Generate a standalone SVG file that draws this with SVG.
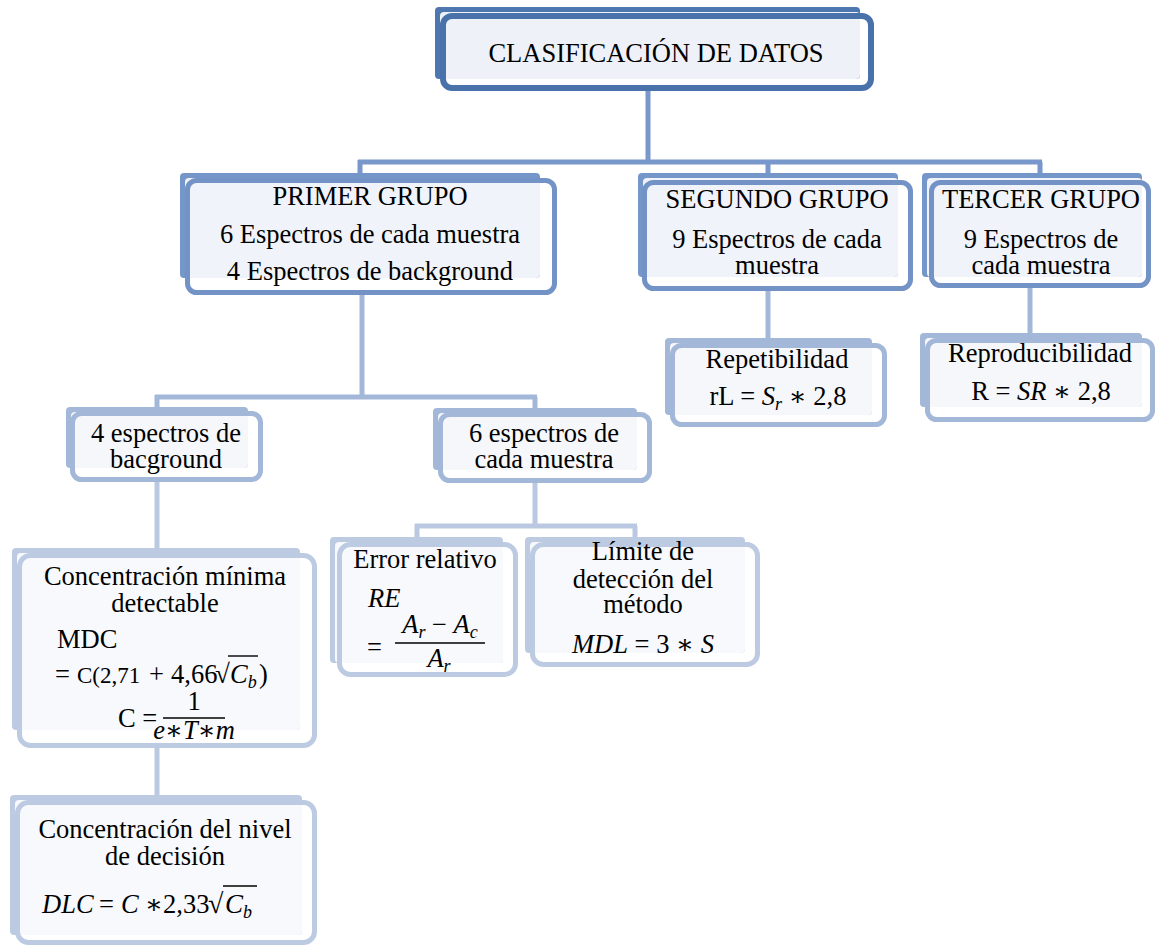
<svg xmlns="http://www.w3.org/2000/svg" width="1156" height="947" viewBox="0 0 1156 947">
  <style>
    .txt { font-family: "Liberation Serif", "DejaVu Serif", serif; font-size: 26.5px; fill: #000; text-anchor: middle; }
    .m { font-family: "Liberation Serif", "DejaVu Serif", serif; font-size: 26.5px; fill: #000; }
    .i { font-style: italic; }
    .sub { font-size: 18px; font-style: italic; }
    .conn { fill: none; stroke-width: 5; stroke-linecap: butt; stroke-linejoin: round; }
    .c1 { stroke: #7898cb; }
    .c2 { stroke: #a3b7d8; }
    .c3 { stroke: #bac9e1; }
    .frame { fill: none; stroke-width: 5; }
    /* level 1 */
    .l1 .back { fill: #4f77af; }
    .l1 .inner { fill: #eef2f8; }
    .l1 .frame { stroke: #4a72aa; stroke-width: 6; }
    /* level 2 */
    .l2 .back { fill: #7596c9; }
    .l2 .inner { fill: #f0f3f9; }
    .l2 .frame { stroke: #7393c6; }
    /* level 3 */
    .l3 .back { fill: #a3b7d8; }
    .l3 .inner { fill: #f5f7fb; }
    .l3 .frame { stroke: #a3b7d8; }
    /* level 4 */
    .l4 .back { fill: #bccae2; }
    .l4 .inner { fill: #f7f9fc; }
    .l4 .frame { stroke: #bccae2; }
    .rule { stroke: #000; stroke-width: 1.4; }
  </style>

  <rect width="1156" height="947" fill="#ffffff"/>

  <!-- connectors -->
  <g id="connectors">
    <path class="conn c1" d="M648,91 V162 M358,162 H1042 M360,160 V180 M768,162 V180 M1040,162 V178"/>
    <path class="conn c2" d="M362,295 V397 M155,397 H537 M157,395 V411 M535,397 V412"/>
    <path class="conn c2" d="M768,291 V343 M1030,288 V338"/>
    <path class="conn c3" d="M157,482 V550 M535,483 V526 M415,526 H637 M417,524 V539 M635,526 V539"/>
    <path class="conn c3" d="M157,748 V800"/>
  </g>

  <!-- root -->
  <g id="clasificacion" class="l1">
    <rect class="back" x="435" y="7" width="425" height="72" rx="4"/>
    <rect class="inner" x="440" y="12" width="420" height="67" rx="4"/>
    <rect class="frame" x="443" y="16" width="428" height="72" rx="9"/>
    <text class="txt" x="656" y="62">CLASIFICACIÓN DE DATOS</text>
  </g>

  <!-- groups -->
  <g id="primer-grupo" class="l2">
    <rect class="back" x="180" y="173" width="360" height="105" rx="4"/>
    <rect class="inner" x="185" y="178" width="355" height="100" rx="4"/>
    <rect class="frame" x="187.5" y="180.5" width="367" height="112" rx="9"/>
    <text class="txt" x="370" y="205">PRIMER GRUPO</text>
    <text class="txt" x="370" y="243">6 Espectros de cada muestra</text>
    <text class="txt" x="370" y="280">4 Espectros de background</text>
  </g>

  <g id="segundo-grupo" class="l2">
    <rect class="back" x="638" y="173" width="260" height="104" rx="4"/>
    <rect class="inner" x="643" y="178" width="255" height="99" rx="4"/>
    <rect class="frame" x="644.5" y="182.5" width="266" height="106" rx="9"/>
    <text class="txt" x="777" y="208">SEGUNDO GRUPO</text>
    <text class="txt" x="777" y="248">9 Espectros de cada</text>
    <text class="txt" x="777" y="274">muestra</text>
  </g>

  <g id="tercer-grupo" class="l2">
    <rect class="back" x="922" y="173" width="220" height="104" rx="4"/>
    <rect class="inner" x="927" y="178" width="215" height="99" rx="4"/>
    <rect class="frame" x="931.5" y="182.5" width="217" height="103" rx="9"/>
    <text class="txt" x="1041" y="208">TERCER GRUPO</text>
    <text class="txt" x="1041" y="248">9 Espectros de</text>
    <text class="txt" x="1041" y="274">cada muestra</text>
  </g>

  <!-- second level -->
  <g id="espectros-background" class="l3">
    <rect class="back" x="66" y="407" width="182" height="61" rx="4"/>
    <rect class="inner" x="71" y="412" width="177" height="56" rx="4"/>
    <rect class="frame" x="72.5" y="413.5" width="188" height="66" rx="9"/>
    <text class="txt" x="166" y="442">4 espectros de</text>
    <text class="txt" x="166" y="468">bacground</text>
  </g>

  <g id="espectros-muestra" class="l3">
    <rect class="back" x="433" y="408" width="204" height="62" rx="4"/>
    <rect class="inner" x="438" y="413" width="199" height="57" rx="4"/>
    <rect class="frame" x="440.5" y="414.5" width="209" height="66" rx="9"/>
    <text class="txt" x="544" y="442">6 espectros de</text>
    <text class="txt" x="544" y="468">cada muestra</text>
  </g>

  <g id="repetibilidad" class="l3">
    <rect class="back" x="665" y="338" width="207" height="77" rx="4"/>
    <rect class="inner" x="670" y="343" width="202" height="72" rx="4"/>
    <rect class="frame" x="672.5" y="345.5" width="212" height="79" rx="9"/>
    <text class="txt" x="777" y="368">Repetibilidad</text>
    <text class="m" x="778" y="405" text-anchor="middle" font-size="28">rL = <tspan class="i">S</tspan><tspan class="sub" dy="5">r</tspan><tspan dy="-5"> ∗ 2,8</tspan></text>
  </g>

  <g id="reproducibilidad" class="l3">
    <rect class="back" x="920" y="333" width="222" height="74" rx="4"/>
    <rect class="inner" x="925" y="338" width="217" height="69" rx="4"/>
    <rect class="frame" x="927.5" y="340.5" width="225" height="79" rx="9"/>
    <text class="txt" x="1040" y="362">Reproducibilidad</text>
    <text class="m" x="1041" y="400" text-anchor="middle" font-size="28">R = <tspan class="i">SR</tspan> ∗ 2,8</text>
  </g>

  <!-- third level -->
  <g id="mdc" class="l4">
    <rect class="back" x="12" y="548" width="288" height="182" rx="4"/>
    <rect class="inner" x="17" y="553" width="283" height="177" rx="4"/>
    <rect class="frame" x="19.5" y="555.5" width="295" height="190" rx="11"/>
    <text class="txt" x="165" y="585">Concentración mínima</text>
    <text class="txt" x="165" y="612">detectable</text>
    <text class="m" x="57" y="648">MDC</text>
    <text class="m" y="683" font-size="24"><tspan x="55">=</tspan><tspan x="77" font-size="23">C(2,71</tspan><tspan x="149">+</tspan><tspan x="171">4,66</tspan><tspan x="215" font-size="27">√</tspan><tspan x="230" class="i">C</tspan><tspan class="sub" dy="5">b</tspan><tspan x="259" dy="-5">)</tspan></text>
    <line class="rule" x1="228" y1="656" x2="258" y2="656"/>
    <text class="m" x="118" y="727">C =</text>
    <line class="rule" x1="163" y1="718" x2="225" y2="718"/>
    <text class="m" x="194" y="710" text-anchor="middle" font-size="18">1</text>
    <text class="m i" x="194" y="739" text-anchor="middle" font-size="16">e∗T∗m</text>
  </g>

  <g id="error-relativo" class="l4">
    <rect class="back" x="330" y="537" width="173" height="126" rx="4"/>
    <rect class="inner" x="335" y="542" width="168" height="121" rx="4"/>
    <rect class="frame" x="339.5" y="544.5" width="176" height="130" rx="11"/>
    <text class="txt" x="425" y="568">Error relativo</text>
    <text class="m i" x="368" y="607">RE</text>
    <text class="m" x="367" y="656">=</text>
    <line class="rule" x1="395" y1="643" x2="485" y2="643"/>
    <text class="m" x="440" y="633" text-anchor="middle" font-size="28"><tspan class="i">A</tspan><tspan class="sub" dy="5">r</tspan><tspan dy="-5"> − </tspan><tspan class="i">A</tspan><tspan class="sub" dy="5">c</tspan></text>
    <text class="m" x="439" y="667" text-anchor="middle" font-size="28"><tspan class="i">A</tspan><tspan class="sub" dy="5">r</tspan></text>
  </g>

  <g id="limite-deteccion" class="l4">
    <rect class="back" x="525" y="537" width="220" height="116" rx="4"/>
    <rect class="inner" x="530" y="542" width="215" height="111" rx="4"/>
    <rect class="frame" x="532.5" y="544.5" width="225" height="120" rx="11"/>
    <text class="txt" x="643" y="560">Límite de</text>
    <text class="txt" x="643" y="588">detección del</text>
    <text class="txt" x="643" y="613">método</text>
    <text class="m" x="643" y="653" text-anchor="middle" font-size="27.5"><tspan class="i">MDL</tspan> = 3 ∗ <tspan class="i">S</tspan></text>
  </g>

  <g id="dlc" class="l4">
    <rect class="back" x="10" y="795" width="292" height="140" rx="4"/>
    <rect class="inner" x="15" y="800" width="287" height="135" rx="4"/>
    <rect class="frame" x="17.5" y="802.5" width="297" height="140" rx="11"/>
    <text class="txt" x="165" y="838">Concentración del nivel</text>
    <text class="txt" x="165" y="865">de decisión</text>
    <text class="m" y="913" font-size="25"><tspan x="42" class="i">DLC</tspan><tspan x="99">=</tspan><tspan x="121" class="i">C</tspan><tspan x="145">∗</tspan><tspan x="163">2,33</tspan><tspan x="208" font-size="28">√</tspan><tspan x="225" class="i" font-size="27">C</tspan><tspan class="sub" dy="5">b</tspan></text>
    <line class="rule" x1="223" y1="886" x2="257" y2="886"/>
  </g>
</svg>
